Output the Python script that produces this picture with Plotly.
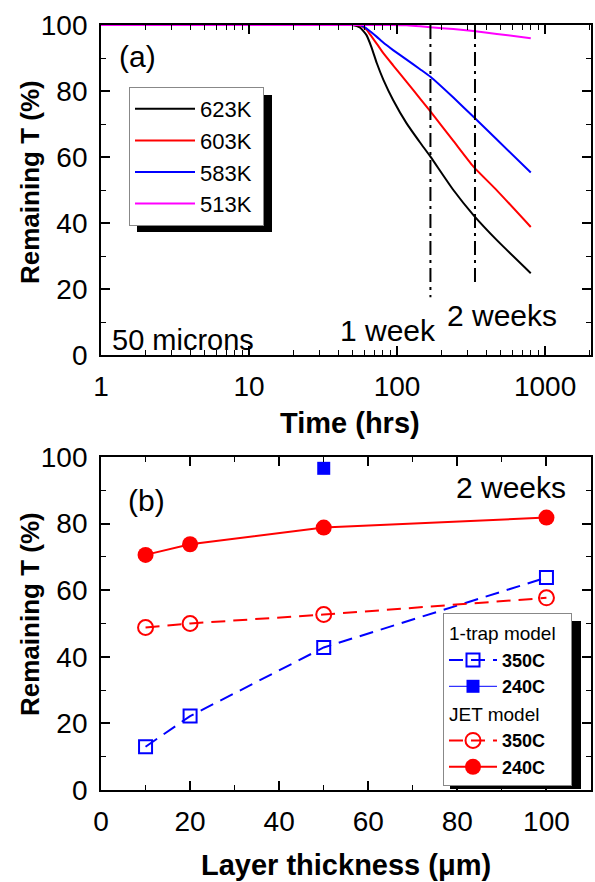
import plotly.graph_objects as go

# ---------- data: panel (a) ----------
time_hrs = [1, 10, 50, 56, 62, 67, 73, 81, 94, 116, 143, 168, 240, 328, 472, 800]
t623 = [100, 100, 100, 99.3, 97.0, 93.4, 88.4, 83.3, 77.3, 70.2, 64.4, 60.1, 50.0, 42.4, 34.8, 24.8]
t603 = [100, 100, 100, 99.9, 98.6, 96.6, 94.3, 91.4, 87.8, 82.8, 77.7, 73.8, 64.9, 57.1, 49.9, 38.8]
t583 = [100, 100, 100, 100, 99.0, 97.8, 96.4, 94.6, 92.4, 89.5, 86.6, 84.3, 78.0, 72.2, 65.3, 55.3]
t513 = [100, 100, 100, 100, 100, 100, 100, 100, 100, 99.9, 99.6, 99.3, 98.8, 98.2, 97.3, 96.0]
series_names = ["623K", "603K", "583K", "513K"]
series_colors = ["#000000", "#ff0000", "#0000ff", "#ff00ff"]

week1_x = [168, 168]
week1_y = [100, 17.5]
week2_x = [336, 336]
week2_y = [100, 20.7]

# ---------- data: panel (b) ----------
thick = [10, 20, 50, 100]
trap_350 = [13.0, 22.2, 42.8, 63.8]
trap_240_x = [50]
trap_240 = [96.6]
jet_350 = [48.8, 50.0, 52.7, 57.7]
jet_240 = [70.6, 73.8, 78.8, 81.8]

W, H = 595, 882
FONT = "Arial, Liberation Sans, sans-serif"
NB = "\u00a0"

def px_x(p):
    return p / W

def px_y(p):
    return 1 - p / H

fig = go.Figure()

for name, vals, col in zip(series_names, [t623, t603, t583, t513], series_colors):
    fig.add_trace(go.Scatter(x=time_hrs, y=vals, mode="lines", name=name + NB,
                             line=dict(color=col, width=2, shape="spline", smoothing=0.5),
                             xaxis="x", yaxis="y", legend="legend"))
for xs, ys in [(week1_x, week1_y), (week2_x, week2_y)]:
    fig.add_trace(go.Scatter(x=xs, y=ys, mode="lines", showlegend=False,
                             line=dict(color="black", width=2, dash="14px,5px,3px,5px"),
                             xaxis="x", yaxis="y"))

fig.add_trace(go.Scatter(x=thick, y=trap_350, mode="lines+markers", name="<b>350C</b>",
                         line=dict(color="#0000ff", width=2, dash="14px,8px"),
                         marker=dict(symbol="square-open", size=13, color="#0000ff",
                                     line=dict(width=2, color="#0000ff")),
                         xaxis="x2", yaxis="y2", legend="legend2",
                         legendgroup="trap", legendgrouptitle=dict(text="1-trap model" + NB)))
fig.add_trace(go.Scatter(x=trap_240_x, y=trap_240, mode="lines+markers", name="<b>240C</b>",
                         line=dict(color="#0000ff", width=1),
                         marker=dict(symbol="square", size=13, color="#0000ff"),
                         xaxis="x2", yaxis="y2", legend="legend2", legendgroup="trap"))
fig.add_trace(go.Scatter(x=thick, y=jet_350, mode="lines+markers", name="<b>350C</b>",
                         line=dict(color="#ff0000", width=2, dash="14px,8px"),
                         marker=dict(symbol="circle-open", size=15, color="#ff0000",
                                     line=dict(width=2, color="#ff0000")),
                         xaxis="x2", yaxis="y2", legend="legend2",
                         legendgroup="jet", legendgrouptitle=dict(text="JET model")))
fig.add_trace(go.Scatter(x=thick, y=jet_240, mode="lines+markers", name="<b>240C</b>",
                         line=dict(color="#ff0000", width=2),
                         marker=dict(symbol="circle", size=16, color="#ff0000"),
                         xaxis="x2", yaxis="y2", legend="legend2", legendgroup="jet"))

axis_common = dict(showline=True, linecolor="black", linewidth=1.8, mirror="ticks",
                   ticks="inside", ticklen=9, tickwidth=1.5, tickcolor="black",
                   showgrid=False, zeroline=False, automargin=False,
                   tickfont=dict(family=FONT, size=28, color="black"))
minor_common = dict(ticks="inside", ticklen=5, tickwidth=1.2, tickcolor="black")

xdom = [px_x(101), px_x(591)]
fig.update_layout(
    width=W, height=H,
    margin=dict(l=0, r=0, t=0, b=0, autoexpand=False),
    plot_bgcolor="white", paper_bgcolor="white",
    font=dict(family=FONT, color="black"),
    xaxis=dict(axis_common, type="log", range=[0, 3.31], domain=xdom, anchor="y",
               tickvals=[1, 10, 100, 1000], ticktext=["1", "10", "100", "1000"],
               ticklabelstandoff=5,
               minor=dict(minor_common,
                          tickvals=[2, 3, 4, 5, 6, 7, 8, 9, 20, 30, 40, 50, 60, 70, 80, 90,
                                    200, 300, 400, 500, 600, 700, 800, 900, 2000])),
    yaxis=dict(axis_common, range=[0, 100], domain=[px_y(355), px_y(25)], anchor="x",
               dtick=20, ticklabelstandoff=6, minor=dict(minor_common, dtick=10)),
    xaxis2=dict(axis_common, range=[0, 110], domain=xdom, anchor="y2", dtick=20,
                ticklabelstandoff=5, minor=dict(minor_common, dtick=10)),
    yaxis2=dict(axis_common, range=[0, 100], domain=[px_y(790), px_y(457)], anchor="x2",
                dtick=20, ticklabelstandoff=6, minor=dict(minor_common, dtick=10)),
    legend=dict(x=px_x(129), y=px_y(87), xanchor="left", yanchor="top",
                bgcolor="white", bordercolor="#888888", borderwidth=1,
                font=dict(family=FONT, size=22, color="black"),
                tracegroupgap=0, itemwidth=60),
    legend2=dict(x=px_x(443), y=px_y(613), xanchor="left", yanchor="top",
                 bgcolor="white", bordercolor="#888888", borderwidth=1,
                 font=dict(family=FONT, size=18, color="black"),
                 grouptitlefont=dict(family=FONT, size=19, color="black"),
                 tracegroupgap=0, itemwidth=48),
    showlegend=True,
)

# legend shadows (offset black boxes behind the legends)
fig.add_shape(type="rect", xref="paper", yref="paper",
              x0=px_x(137), x1=px_x(272), y0=px_y(232), y1=px_y(95),
              fillcolor="black", line=dict(width=0), layer="above")
fig.add_shape(type="rect", xref="paper", yref="paper",
              x0=px_x(450), x1=px_x(581), y0=px_y(789), y1=px_y(621),
              fillcolor="black", line=dict(width=0), layer="above")

def ann(text, x, y, size=30, xanchor="left", bold=False, angle=0):
    fig.add_annotation(text=f"<b>{text}</b>" if bold else text,
                       xref="paper", yref="paper", x=px_x(x), y=px_y(y),
                       xanchor=xanchor, yanchor="middle", showarrow=False,
                       textangle=angle, font=dict(family=FONT, size=size, color="black"))

ann("(a)", 137, 56, xanchor="center")
ann("50 microns", 110, 340, size=29)
ann("1 week", 338, 330)
ann("2 weeks", 445, 315)
ann("(b)", 146, 500, xanchor="center")
ann("2 weeks", 454, 487)
ann("Time (hrs)", 350, 423, size=29, xanchor="center", bold=True)
ann("Layer thickness (μm)", 346, 865, size=29, xanchor="center", bold=True)
ann("Remaining T (%)", 30, 182, size=26, xanchor="center", bold=True, angle=-90)
ann("Remaining T (%)", 30, 614, size=26, xanchor="center", bold=True, angle=-90)

fig.write_html("out.html", config={"displayModeBar": False},
               post_script="document.body.style.margin='0';"
               "document.body.style.overflow='hidden';")
